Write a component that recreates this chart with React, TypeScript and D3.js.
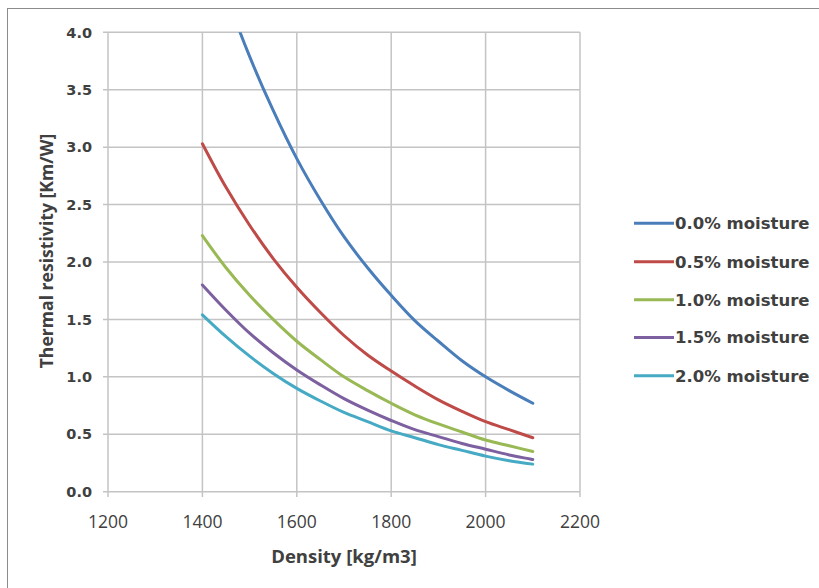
import React from "react";
import * as d3 from "d3";

const densities = [1400, 1450, 1500, 1550, 1600, 1650, 1700, 1750, 1800, 1850, 1900, 1950, 2000, 2050, 2100];
const seriesNames = ["0.0% moisture", "0.5% moisture", "1.0% moisture", "1.5% moisture", "2.0% moisture"];
const moisture00 = [4.94, 4.33, 3.79, 3.32, 2.90, 2.54, 2.22, 1.95, 1.71, 1.49, 1.31, 1.14, 1.00, 0.88, 0.77];
const moisture05 = [3.03, 2.65, 2.32, 2.03, 1.78, 1.56, 1.36, 1.19, 1.05, 0.92, 0.80, 0.70, 0.61, 0.54, 0.47];
const moisture10 = [2.23, 1.95, 1.71, 1.50, 1.31, 1.15, 1.00, 0.88, 0.77, 0.67, 0.59, 0.52, 0.45, 0.40, 0.35];
const moisture15 = [1.80, 1.58, 1.38, 1.21, 1.06, 0.93, 0.81, 0.71, 0.62, 0.54, 0.48, 0.42, 0.37, 0.32, 0.28];
const moisture20 = [1.54, 1.35, 1.18, 1.03, 0.90, 0.79, 0.69, 0.61, 0.53, 0.47, 0.41, 0.36, 0.31, 0.27, 0.24];
const seriesValues = [moisture00, moisture05, moisture10, moisture15, moisture20];
const colors = ["#4A7EBB", "#BE4B48", "#98B954", "#7D60A0", "#46AAC5"];
const xTicks = [1200, 1400, 1600, 1800, 2000, 2200];
const yTicks = [0, 0.5, 1, 1.5, 2, 2.5, 3, 3.5, 4];

export default function App() {
  const W = 819, H = 588;
  const x = d3.scaleLinear().domain([1200, 2200]).range([108, 580]);
  const y = d3.scaleLinear().domain([0, 4]).range([491.7, 32.3]);
  const line = d3.line<[number, number]>()
    .x(d => x(d[0]))
    .y(d => y(d[1]))
    .curve(d3.curveCatmullRom.alpha(0.5));
  const grid = "#c4c4c4";
  const textColor = "#404040";
  const legendY = [223.3, 261.7, 299.7, 337.5, 375.7];
  return (
    <svg width={W} height={H} style={{ position: "absolute", left: 0, top: 0 }}>
      <rect x={0} y={0} width={W} height={H} fill="#fff" />
      <rect x={7.5} y={8.5} width={812} height={600} fill="none" stroke="#8c8c8c" strokeWidth={1} />
      <defs>
        <clipPath id="plotclip">
          <rect x={x(1200)} y={y(4)} width={x(2200) - x(1200)} height={y(0) - y(4)} />
        </clipPath>
      </defs>
      {yTicks.map(t => (
        <g key={"y" + t}>
          <line x1={103} x2={x(2200)} y1={y(t)} y2={y(t)} stroke={grid} strokeWidth={1.5} />
          <text x={92} y={y(t)} dy="0.36em" textAnchor="end" fontFamily="DejaVu Sans" fontWeight="bold" fontSize={14.5} fill={textColor}>
            {t.toFixed(1)}
          </text>
        </g>
      ))}
      {xTicks.map(t => (
        <g key={"x" + t}>
          <line x1={x(t)} x2={x(t)} y1={y(4)} y2={497} stroke={grid} strokeWidth={1.5} />
          <text x={x(t)} y={528} textAnchor="middle" fontFamily="Open Sans" fontSize={17.5} fill={textColor}>
            {t}
          </text>
        </g>
      ))}
      <g clipPath="url(#plotclip)">
        {seriesValues.map((vals, i) => (
          <path key={i} d={line(densities.map((d, j) => [d, vals[j]] as [number, number])) || ""}
            fill="none" stroke={colors[i]} strokeWidth={3} strokeLinejoin="round" strokeLinecap="round" />
        ))}
      </g>
      <text x={344} y={563} textAnchor="middle" fontFamily="Open Sans" fontWeight="bold" fontSize={18.5} fill={textColor}>
        Density [kg/m3]
      </text>
      <text transform="translate(53,251) rotate(-90)" textAnchor="middle" fontFamily="Open Sans" fontWeight="bold" fontSize={17.6} fill={textColor}>
        Thermal resistivity [Km/W]
      </text>
      {seriesNames.map((name, i) => (
        <g key={name}>
          <line x1={634} x2={674} y1={legendY[i]} y2={legendY[i]} stroke={colors[i]} strokeWidth={3} />
          <text x={675} y={legendY[i]} dy="0.36em" fontFamily="DejaVu Sans" fontWeight="bold" fontSize={16.5} fill={textColor}>
            {name}
          </text>
        </g>
      ))}
    </svg>
  );
}
